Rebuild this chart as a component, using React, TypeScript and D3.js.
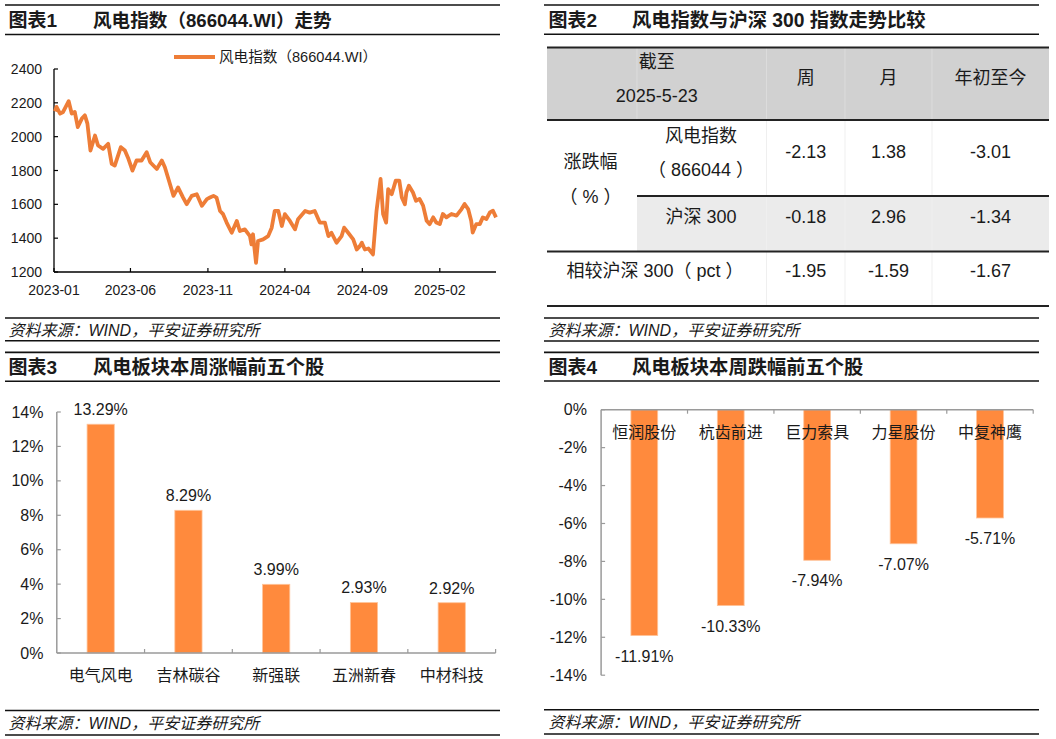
import React from 'react';
import * as d3 from 'd3';

const FONT = "'Liberation Sans', Arial, 'Noto Sans CJK SC', sans-serif";
const LINE_COLOR = '#EE7D37';
const BAR_COLOR = '#FF8A3D';
const BAR_EDGE = '#FFC49A';
const INK = '#1a1a1a';
const AXIS_GRAY = '#9a9a9a';

// ---- Chart 1: wind power index (866044.WI) ----
const indexDates = [
  '2023-01-03', '2023-01-06', '2023-01-13', '2023-01-19', '2023-01-30', '2023-02-05', '2023-02-11', '2023-02-17',
  '2023-02-25', '2023-03-03', '2023-03-08', '2023-03-14', '2023-03-23', '2023-03-29', '2023-04-08', '2023-04-18',
  '2023-04-25', '2023-05-01', '2023-05-13', '2023-05-21', '2023-05-28', '2023-06-05', '2023-06-13', '2023-06-23',
  '2023-07-03', '2023-07-10', '2023-07-23', '2023-08-02', '2023-08-08', '2023-08-18', '2023-08-25', '2023-09-03',
  '2023-09-13', '2023-09-20', '2023-09-30', '2023-10-10', '2023-10-20', '2023-10-30', '2023-11-05', '2023-11-12',
  '2023-11-18', '2023-11-25', '2023-12-01', '2023-12-08', '2023-12-18', '2023-12-28', '2024-01-03', '2024-01-13',
  '2024-01-23', '2024-01-26', '2024-01-29', '2024-02-04', '2024-02-08', '2024-02-18', '2024-02-28', '2024-03-06',
  '2024-03-12', '2024-03-19', '2024-03-26', '2024-04-01', '2024-04-11', '2024-04-21', '2024-04-27', '2024-05-11',
  '2024-05-20', '2024-05-30', '2024-06-09', '2024-06-19', '2024-06-26', '2024-07-02', '2024-07-12', '2024-07-22',
  '2024-07-27', '2024-08-04', '2024-08-14', '2024-08-21', '2024-08-27', '2024-08-31', '2024-09-06', '2024-09-13',
  '2024-09-22', '2024-09-29', '2024-10-07', '2024-10-12', '2024-10-18', '2024-10-22', '2024-10-29', '2024-11-06',
  '2024-11-13', '2024-11-18', '2024-11-24', '2024-11-27', '2024-12-02', '2024-12-10', '2024-12-16', '2024-12-23',
  '2024-12-30', '2025-01-06', '2025-01-12', '2025-01-19', '2025-01-25', '2025-02-01', '2025-02-07', '2025-02-14',
  '2025-02-24', '2025-03-06', '2025-03-16', '2025-03-22', '2025-03-29', '2025-04-04', '2025-04-07', '2025-04-14',
  '2025-04-21', '2025-04-27', '2025-05-04', '2025-05-11', '2025-05-17', '2025-05-23',
];
const indexValues = [
  2150, 2176, 2136, 2146, 2210, 2136, 2146, 2057,
  2107, 2126, 2077, 1918, 2007, 1948, 1928, 1958,
  1839, 1829, 1938, 1918, 1869, 1799, 1859, 1859,
  1908, 1849, 1809, 1859, 1819, 1720, 1650, 1700,
  1640, 1601, 1650, 1660, 1591, 1631, 1640, 1650,
  1640, 1561, 1542, 1492, 1432, 1502, 1442, 1452,
  1412, 1363, 1423, 1254, 1383, 1393, 1412, 1462,
  1561, 1561, 1472, 1542, 1502, 1452, 1512, 1561,
  1551, 1561, 1492, 1492, 1412, 1432, 1373, 1412,
  1462, 1432, 1393, 1333, 1353, 1373, 1333, 1339,
  1304, 1561, 1750, 1542, 1492, 1690, 1660, 1740,
  1740, 1640, 1601, 1670, 1710, 1670, 1621, 1632,
  1592, 1503, 1483, 1523, 1493, 1483, 1543, 1523,
  1543, 1533, 1572, 1602, 1572, 1503, 1433, 1483,
  1483, 1523, 1513, 1552, 1562, 1523,
];
const indexYTicks = [1200, 1400, 1600, 1800, 2000, 2200, 2400];
const indexXTicks = ['2023-01-01', '2023-06-01', '2023-11-01', '2024-04-01', '2024-09-01', '2025-02-01'];
const indexLegend = '风电指数（866044.WI）';

// ---- Chart 2: table ----
const tableCols = ['周', '月', '年初至今'];
const windRow = ['-2.13', '1.38', '-3.01'];
const hs300Row = ['-0.18', '2.96', '-1.34'];
const relRow = ['-1.95', '-1.59', '-1.67'];

// ---- Chart 3 / 4: top gainers and losers ----
const gainerNames = ['电气风电', '吉林碳谷', '新强联', '五洲新春', '中材科技'];
const gainerValues = [13.29, 8.29, 3.99, 2.93, 2.92];
const loserNames = ['恒润股份', '杭齿前进', '巨力索具', '力星股份', '中复神鹰'];
const loserValues = [-11.91, -10.33, -7.94, -7.07, -5.71];
const pctTicksUp = [0, 2, 4, 6, 8, 10, 12, 14];
const pctTicksDown = [0, -2, -4, -6, -8, -10, -12, -14];

const SOURCE = '资料来源：WIND，平安证券研究所';

type FrameProps = {
  x0: number; x1: number; tTop: number; tBot: number; sTop: number; sBot: number;
  label: string; title: string; labelX: number; titleX: number; titleSize?: number;
};

function Frame({ x0, x1, tTop, tBot, sTop, sBot, label, title, labelX, titleX, titleSize = 19.3 }: FrameProps) {
  const ty = (tTop + tBot) / 2 + 1;
  const sy = (sTop + sBot) / 2;
  return (
    <g>
      <line x1={x0} x2={x1} y1={tTop} y2={tTop} stroke="#111" strokeWidth={1.6} />
      <line x1={x0} x2={x1} y1={tBot} y2={tBot} stroke="#111" strokeWidth={1.6} />
      <text x={labelX} y={ty} fontSize={19} fontWeight="bold" fill={INK} dominantBaseline="central">{label}</text>
      <text x={titleX} y={ty} fontSize={titleSize} fontWeight="bold" fill={INK} dominantBaseline="central">{title}</text>
      <line x1={x0} x2={x1} y1={sTop} y2={sTop} stroke="#111" strokeWidth={1.6} />
      <line x1={x0} x2={x1} y1={sBot} y2={sBot} stroke="#111" strokeWidth={1.6} />
      <text x={labelX} y={sy + 1} fontSize={16} fontStyle="italic" fill={INK} dominantBaseline="central">{SOURCE}</text>
    </g>
  );
}

function LineChart() {
  const parse = d3.timeParse('%Y-%m-%d');
  const data = indexDates.map((d, i) => ({ date: parse(d) as Date, value: indexValues[i] }));
  const x = d3.scaleTime().domain([new Date(2023, 0, 1), new Date(2025, 4, 23)]).range([54, 496]);
  const y = d3.scaleLinear().domain([1200, 2400]).range([272, 69]);
  const path = d3.line<{ date: Date; value: number }>().x(d => x(d.date)).y(d => y(d.value))(data) || '';
  const fmt = d3.timeFormat('%Y-%m');
  return (
    <g>
      <line x1={174} x2={215} y1={57} y2={57} stroke={LINE_COLOR} strokeWidth={4} />
      <text x={219} y={57} fontSize={14.6} fill={INK} dominantBaseline="central">{indexLegend}</text>
      <line x1={x.range()[0]} x2={x.range()[0]} y1={y(2400)} y2={y(1200)} stroke="#000" strokeWidth={1.3} />
      <line x1={x.range()[0]} x2={x.range()[1]} y1={y(1200)} y2={y(1200)} stroke="#000" strokeWidth={1.3} />
      {indexYTicks.map(t => (
        <g key={t}>
          <line x1={54} x2={58} y1={y(t)} y2={y(t)} stroke="#000" strokeWidth={1.2} />
          <text x={42} y={y(t)} fontSize={14} textAnchor="end" dominantBaseline="central" fill={INK}>{t}</text>
        </g>
      ))}
      {indexXTicks.map(s => {
        const d = parse(s) as Date;
        return (
          <g key={s}>
            <line x1={x(d)} x2={x(d)} y1={272} y2={268} stroke="#000" strokeWidth={1.2} />
            <text x={x(d)} y={290} fontSize={14} textAnchor="middle" dominantBaseline="central" fill={INK}>{fmt(d)}</text>
          </g>
        );
      })}
      <path d={path} fill="none" stroke={LINE_COLOR} strokeWidth={3.8} strokeLinejoin="round" />
    </g>
  );
}

function Table() {
  const cx = [547, 637, 766.5, 845, 932, 1049];
  const ry = [47.5, 120, 196, 251.5, 306];
  const colCenters = [2, 3, 4].map(i => (cx[i] + cx[i + 1]) / 2);
  const fs = 18;
  return (
    <g fontSize={fs} fill={INK}>
      <rect x={cx[0]} y={ry[0]} width={cx[5] - cx[0]} height={ry[1] - ry[0]} fill="#D1D1D1" />
      <rect x={cx[1]} y={ry[2]} width={cx[5] - cx[1]} height={ry[3] - ry[2]} fill="#EBEBEB" />
      {[1, 2, 3, 4].map(i => (
        <line key={'h' + i} x1={cx[i]} x2={cx[i]} y1={ry[0]} y2={ry[1]} stroke="#DCDCDC" strokeWidth={1} />
      ))}
      {[2, 3, 4].map(i => (
        <line key={'v' + i} x1={cx[i]} x2={cx[i]} y1={ry[1]} y2={ry[4]} stroke="#EFEFEF" strokeWidth={1} />
      ))}
      <line x1={cx[0]} x2={cx[5]} y1={ry[0]} y2={ry[0]} stroke="#222" strokeWidth={2} />
      <line x1={cx[0]} x2={cx[5]} y1={ry[1]} y2={ry[1]} stroke="#222" strokeWidth={2} />
      <line x1={cx[1]} x2={cx[5]} y1={ry[2]} y2={ry[2]} stroke="#222" strokeWidth={2} />
      <line x1={cx[0]} x2={cx[5]} y1={ry[3]} y2={ry[3]} stroke="#222" strokeWidth={2} />
      <line x1={cx[0]} x2={cx[5]} y1={ry[4]} y2={ry[4]} stroke="#222" strokeWidth={2} />
      <text x={656.8} y={61.5} textAnchor="middle" dominantBaseline="central">截至</text>
      <text x={656.8} y={96} textAnchor="middle" dominantBaseline="central">2025-5-23</text>
      {tableCols.map((c, i) => (
        <text key={c} x={colCenters[i]} y={78} textAnchor="middle" dominantBaseline="central">{c}</text>
      ))}
      <text x={590.5} y={162} textAnchor="middle" dominantBaseline="central">涨跌幅</text>
      <text x={590.5} y={197} textAnchor="middle" dominantBaseline="central">（ % ）</text>
      <text x={701} y={135.5} textAnchor="middle" dominantBaseline="central">风电指数</text>
      <text x={701} y={169.5} textAnchor="middle" dominantBaseline="central">（ 866044 ）</text>
      {windRow.map((v, i) => (
        <text key={'w' + i} x={colCenters[i]} y={151.5} textAnchor="middle" dominantBaseline="central">{v}</text>
      ))}
      <text x={701} y={216.5} textAnchor="middle" dominantBaseline="central">沪深 300</text>
      {hs300Row.map((v, i) => (
        <text key={'s' + i} x={colCenters[i]} y={216.5} textAnchor="middle" dominantBaseline="central">{v}</text>
      ))}
      <text x={655} y={271} textAnchor="middle" dominantBaseline="central">相较沪深 300（ pct ）</text>
      {relRow.map((v, i) => (
        <text key={'r' + i} x={colCenters[i]} y={271} textAnchor="middle" dominantBaseline="central">{v}</text>
      ))}
    </g>
  );
}

function GainersChart() {
  const x = d3.scaleBand<string>().domain(gainerNames).range([56.8, 495.6]).paddingInner(0.69).paddingOuter(0.345);
  const y = d3.scaleLinear().domain([0, 14]).range([653, 412]);
  const step = x.step();
  const x0 = 56.8;
  return (
    <g>
      {gainerNames.map((n, i) => (
        <g key={n}>
          <rect x={x(n)} y={y(gainerValues[i])} width={x.bandwidth()} height={y(0) - y(gainerValues[i])}
            fill={BAR_COLOR} stroke={BAR_EDGE} strokeWidth={0.8} />
          <text x={(x(n) as number) + x.bandwidth() / 2} y={y(gainerValues[i]) - 14.6} fontSize={16}
            textAnchor="middle" dominantBaseline="central" fill={INK}>{gainerValues[i].toFixed(2)}%</text>
          <text x={(x(n) as number) + x.bandwidth() / 2} y={675} fontSize={16}
            textAnchor="middle" dominantBaseline="central" fill={INK}>{n}</text>
        </g>
      ))}
      <line x1={x0} x2={x0} y1={y(14)} y2={y(0)} stroke={AXIS_GRAY} strokeWidth={1.5} />
      <line x1={x0} x2={495.6} y1={y(0)} y2={y(0)} stroke={AXIS_GRAY} strokeWidth={1.5} />
      {pctTicksUp.map(t => (
        <g key={t}>
          <line x1={x0} x2={x0 + 4} y1={y(t)} y2={y(t)} stroke={AXIS_GRAY} strokeWidth={1.2} />
          <text x={43.5} y={y(t)} fontSize={16} textAnchor="end" dominantBaseline="central" fill={INK}>{t}%</text>
        </g>
      ))}
      {gainerNames.map((n, i) => (
        <line key={'t' + i} x1={x0 + step * (i + 1)} x2={x0 + step * (i + 1)} y1={y(0)} y2={y(0) - 4}
          stroke={AXIS_GRAY} strokeWidth={1.2} />
      ))}
    </g>
  );
}

function LosersChart() {
  const x = d3.scaleBand<string>().domain(loserNames).range([601.1, 1033.2]).paddingInner(0.69).paddingOuter(0.345);
  const y = d3.scaleLinear().domain([-14, 0]).range([675.2, 409.7]);
  const step = x.step();
  const x0 = 601.1;
  return (
    <g>
      {loserNames.map((n, i) => (
        <g key={n}>
          <rect x={x(n)} y={y(0)} width={x.bandwidth()} height={y(loserValues[i]) - y(0)}
            fill={BAR_COLOR} stroke={BAR_EDGE} strokeWidth={0.8} />
          <text x={(x(n) as number) + x.bandwidth() / 2} y={y(loserValues[i]) + 20.7} fontSize={16}
            textAnchor="middle" dominantBaseline="central" fill={INK}>{loserValues[i].toFixed(2)}%</text>
        </g>
      ))}
      <line x1={x0} x2={x0} y1={y(0)} y2={y(-14)} stroke={AXIS_GRAY} strokeWidth={1.5} />
      <line x1={x0} x2={1033.2} y1={y(0)} y2={y(0)} stroke={AXIS_GRAY} strokeWidth={1.5} />
      {pctTicksDown.map(t => (
        <g key={t}>
          <line x1={x0} x2={x0 + 4} y1={y(t)} y2={y(t)} stroke={AXIS_GRAY} strokeWidth={1.2} />
          <text x={587} y={y(t)} fontSize={16} textAnchor="end" dominantBaseline="central" fill={INK}>{t}%</text>
        </g>
      ))}
      {loserNames.map((n, i) => (
        <line key={'t' + i} x1={x0 + step * (i + 1)} x2={x0 + step * (i + 1)} y1={y(0)} y2={y(0) + 4}
          stroke={AXIS_GRAY} strokeWidth={1.2} />
      ))}
      {loserNames.map(n => (
        <text key={'l' + n} x={(x(n) as number) + x.bandwidth() / 2} y={432.2} fontSize={16}
          textAnchor="middle" dominantBaseline="central" fill={INK}>{n}</text>
      ))}
    </g>
  );
}

export default function App() {
  return (
    <svg width={1056} height={739} viewBox="0 0 1056 739"
      style={{ position: 'absolute', left: 0, top: 0, background: '#fff' }} fontFamily={FONT}>
      <rect x={0} y={0} width={1056} height={739} fill="#fff" />
      <Frame x0={5} x1={500} tTop={5} tBot={34.5} sTop={318} sBot={340.7}
        label="图表1" title="风电指数（866044.WI）走势" labelX={8.5} titleX={93} titleSize={18.6} />
      <Frame x0={544} x1={1039} tTop={5} tBot={34.3} sTop={318} sBot={341}
        label="图表2" title="风电指数与沪深 300 指数走势比较" labelX={548.5} titleX={632} />
      <Frame x0={5} x1={500} tTop={352.4} tBot={381.2} sTop={710.5} sBot={735}
        label="图表3" title="风电板块本周涨幅前五个股" labelX={8.5} titleX={93} />
      <Frame x0={544} x1={1039} tTop={352.4} tBot={381} sTop={709.8} sBot={734}
        label="图表4" title="风电板块本周跌幅前五个股" labelX={548.5} titleX={632} />
      <LineChart />
      <Table />
      <GainersChart />
      <LosersChart />
    </svg>
  );
}
